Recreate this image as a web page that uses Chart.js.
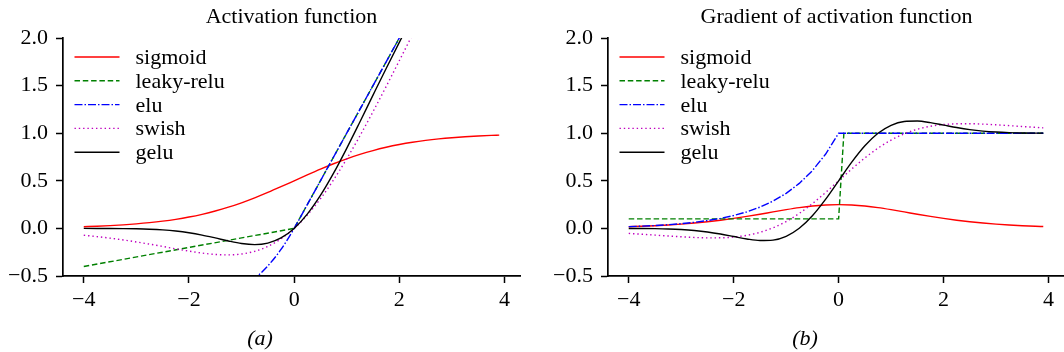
<!DOCTYPE html>
<html>
<head>
<meta charset="utf-8">
<script src="https://cdn.jsdelivr.net/npm/chart.js@4.4.1/dist/chart.umd.min.js"></script>
<style>
  html, body { margin: 0; padding: 0; background: #fff; }
  #wrap { position: relative; width: 1064px; height: 352px; }
  canvas { position: absolute; top: 0; }
</style>
</head>
<body>
<div id="wrap">
  <canvas id="act" width="532" height="352" style="left:0"></canvas>
  <canvas id="grad" width="532" height="352" style="left:532px"></canvas>
</div>
<script>
// sample points
const xs = [-4, -3.75, -3.5, -3.25, -3, -2.75, -2.5, -2.25, -2, -1.75, -1.5, -1.25, -1, -0.75, -0.5, -0.25,
  0, 0.25, 0.5, 0.75, 1, 1.25, 1.5, 1.75, 2, 2.25, 2.5, 2.75, 3, 3.25, 3.5, 3.75, 3.9];

const sigmoid = [0.0180, 0.0230, 0.0293, 0.0373, 0.0474, 0.0601, 0.0759, 0.0954, 0.1192, 0.1480, 0.1824, 0.2227,
  0.2689, 0.3208, 0.3775, 0.4378, 0.5, 0.5622, 0.6225, 0.6792, 0.7311, 0.7773, 0.8176, 0.8520, 0.8808, 0.9047,
  0.9241, 0.9399, 0.9526, 0.9627, 0.9707, 0.9770, 0.9802];
const leakyX = [-4, 0, 3.9];
const leaky = [-0.4, 0, 3.9];
const elu = [-0.9817, -0.9765, -0.9698, -0.9612, -0.9502, -0.9361, -0.9179, -0.8946, -0.8647, -0.8262, -0.7769,
  -0.7135, -0.6321, -0.5276, -0.3935, -0.2212, 0, 0.25, 0.5, 0.75, 1, 1.25, 1.5, 1.75, 2, 2.25, 2.5, 2.75, 3,
  3.25, 3.5, 3.75, 3.9];
const swish = [-0.0719, -0.0862, -0.1026, -0.1213, -0.1423, -0.1653, -0.1897, -0.2145, -0.2384, -0.2591, -0.2736,
  -0.2784, -0.2689, -0.2406, -0.1888, -0.1095, 0, 0.1405, 0.3112, 0.5094, 0.7311, 0.9716, 1.2264, 1.4909, 1.7616,
  2.0355, 2.3104, 2.5848, 2.8577, 3.1287, 3.3974, 3.6638, 3.8226];
const gelu = [-0.0001, -0.0003, -0.0008, -0.0019, -0.0040, -0.0082, -0.0155, -0.0275, -0.0455, -0.0701, -0.1002,
  -0.1321, -0.1587, -0.1700, -0.1543, -0.1003, 0, 0.1497, 0.3457, 0.5800, 0.8413, 1.1179, 1.3998, 1.6799, 1.9545,
  2.2225, 2.4845, 2.7418, 2.9960, 3.2481, 3.4992, 3.7497, 3.8998];

// gradients
const sigmoidGrad = [0.0177, 0.0225, 0.0285, 0.0359, 0.0452, 0.0565, 0.0701, 0.0863, 0.1050, 0.1261, 0.1491,
  0.1731, 0.1966, 0.2179, 0.2350, 0.2461, 0.25, 0.2461, 0.2350, 0.2179, 0.1966, 0.1731, 0.1491, 0.1261, 0.1050,
  0.0863, 0.0701, 0.0565, 0.0452, 0.0359, 0.0285, 0.0225, 0.0194];
const leakyGradX = [-4, 0, 0.1, 3.9];
const leakyGrad = [0.1, 0.1, 1, 1];
const eluGrad = [0.0183, 0.0235, 0.0302, 0.0388, 0.0498, 0.0639, 0.0821, 0.1054, 0.1353, 0.1738, 0.2231, 0.2865,
  0.3679, 0.4724, 0.6065, 0.7788, 1, 1, 1, 1, 1, 1, 1, 1, 1, 1, 1, 1, 1, 1, 1, 1, 1];
const swishGrad = [-0.0527, -0.0612, -0.0703, -0.0795, -0.0881, -0.0952, -0.0994, -0.0987, -0.0908, -0.0727,
  -0.0413, 0.0063, 0.0723, 0.1574, 0.2600, 0.3763, 0.5, 0.6237, 0.7400, 0.8426, 0.9277, 0.9937, 1.0413, 1.0727,
  1.0908, 1.0987, 1.0994, 1.0952, 1.0881, 1.0795, 1.0703, 1.0612, 1.0560];
const geluGrad = [-0.0005, -0.0012, -0.0028, -0.0060, -0.0119, -0.0220, -0.0376, -0.0592, -0.0852, -0.1109,
  -0.1275, -0.1227, -0.0833, 0.0008, 0.1325, 0.3046, 0.5, 0.6954, 0.8675, 0.9992, 1.0833, 1.1227, 1.1275, 1.1109,
  1.0852, 1.0592, 1.0376, 1.0220, 1.0119, 1.0060, 1.0028, 1.0012, 1.0007];

const names = ["sigmoid", "leaky-relu", "elu", "swish", "gelu"];
const xTicks = [-4, -2, 0, 2, 4];
const yTicks = [-0.5, 0, 0.5, 1, 1.5, 2];

const FONT = "22px 'Liberation Serif'";
const colors = ["#ff0000", "#008000", "#0000ff", "#bf00bf", "#000000"];
const dashes = [[], [5.5, 2.8], [8, 2, 1.5, 2], [1.4, 2.9], []];

Chart.defaults.font.family = "'Liberation Serif', serif";
Chart.defaults.font.size = 22;
Chart.defaults.color = "#000";

const pts = (xArr, yArr) => xArr.map((x, i) => ({ x: x, y: yArr[i] }));
const minus = (s) => String(s).replace("-", "\u2212");

function makeSets(series) {
  return series.map((s, i) => ({
    label: names[i],
    data: s.data,
    borderColor: colors[i],
    borderDash: dashes[i],
    borderWidth: 1.4,
    pointRadius: 0,
    fill: false,
    tension: s.smooth ? 0.4 : 0,
    cubicInterpolationMode: s.smooth ? "monotone" : "default",
    order: 4 - i,
  }));
}

// legend inside the axes + title + sub caption
const textPlugin = {
  id: "texts",
  afterDraw(chart, args, opts) {
    const { ctx, chartArea } = chart;
    ctx.save();
    chart.data.datasets.forEach((ds, i) => {
      const y = chartArea.top + 19 + i * 23.8;
      const x0 = chartArea.left + 11.5;
      ctx.beginPath();
      ctx.setLineDash(ds.borderDash);
      ctx.lineWidth = ds.borderWidth;
      ctx.strokeStyle = ds.borderColor;
      ctx.moveTo(x0, y);
      ctx.lineTo(x0 + 45, y);
      ctx.stroke();
      ctx.setLineDash([]);
      ctx.fillStyle = "#000";
      ctx.font = FONT;
      ctx.textAlign = "left";
      ctx.textBaseline = "alphabetic";
      ctx.fillText(ds.label, x0 + 61, y + 7);
    });
    ctx.textAlign = "center";
    ctx.fillText(opts.title, opts.titleX, 23);
    ctx.font = "italic " + FONT;
    ctx.fillText(opts.caption, opts.captionX, 345);
    ctx.restore();
  },
};

function makeChart(id, series, yWidth, rightPad, texts) {
  return new Chart(document.getElementById(id), {
    type: "line",
    data: { datasets: makeSets(series) },
    options: {
      responsive: false,
      animation: false,
      devicePixelRatio: 1,
      layout: { padding: { top: 38, right: rightPad, left: 0, bottom: 0 } },
      plugins: { legend: { display: false }, tooltip: { enabled: false }, texts: texts },
      scales: {
        x: {
          type: "linear",
          min: -4.395,
          max: 4.295,
          afterBuildTicks: (s) => { s.ticks = xTicks.map((v) => ({ value: v })); },
          afterFit: (s) => { s.height = 76; },
          grid: { drawOnChartArea: false, tickLength: 7, tickWidth: 1.5, tickColor: "#000" },
          border: { display: true, color: "#000", width: 1.7 },
          ticks: { padding: 4, maxRotation: 0, callback: (v) => minus(v) },
        },
        y: {
          type: "linear",
          min: -0.5,
          max: 2,
          afterBuildTicks: (s) => { s.ticks = yTicks.map((v) => ({ value: v })); },
          afterFit: (s) => { s.width = yWidth; },
          grid: { drawOnChartArea: false, tickLength: 7, tickWidth: 1.5, tickColor: "#000" },
          border: { display: true, color: "#000", width: 1.7 },
          ticks: { padding: 8, callback: (v) => minus(v.toFixed(1)) },
        },
      },
    },
    plugins: [textPlugin],
  });
}

makeChart("act", [
  { data: pts(xs, sigmoid), smooth: true },
  { data: pts(leakyX, leaky), smooth: false },
  { data: pts(xs, elu), smooth: true },
  { data: pts(xs, swish), smooth: true },
  { data: pts(xs, gelu), smooth: true },
], 63, 12, { title: "Activation function", titleX: 291.5, caption: "(a)", captionX: 260 });

makeChart("grad", [
  { data: pts(xs, sigmoidGrad), smooth: true },
  { data: pts(leakyGradX, leakyGrad), smooth: false },
  { data: pts(xs, eluGrad), smooth: false },
  { data: pts(xs, swishGrad), smooth: true },
  { data: pts(xs, geluGrad), smooth: true },
], 76, 0, { title: "Gradient of activation function", titleX: 304.5, caption: "(b)", captionX: 273 });
</script>
</body>
</html>
